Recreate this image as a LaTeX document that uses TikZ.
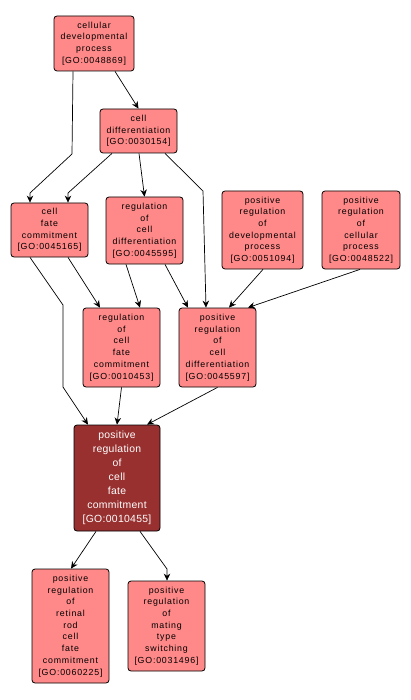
\documentclass[tikz,border=0pt]{standalone}
\usepackage{fontspec}
\setmainfont{Liberation Sans}
\newfontfamily\lightfont[LetterSpace=9]{Liberation Sans}
\newfontfamily\darkfont[LetterSpace=3]{Liberation Sans}
\usetikzlibrary{arrows.meta}
\definecolor{lightnode}{RGB}{255,136,136}
\definecolor{darknode}{RGB}{153,48,48}
\tikzset{
  gobox/.style={draw=black, line width=0.8pt, rounded corners=3pt, fill=lightnode,
    inner sep=0pt, align=center, font=\lightfont\fontsize{8.8}{11.7}\selectfont,
    execute at begin node={\rule{0pt}{11.4pt}}},
  godark/.style={gobox, fill=darknode, text=white, font=\darkfont\fontsize{10.4}{14}\selectfont,
    execute at begin node={\rule{0pt}{12.6pt}}},
  edge/.style={draw=black, line width=0.7pt, -{Stealth[length=7pt,width=6.5pt]}}
}
\begin{document}
\begin{tikzpicture}[x=1pt,y=-1pt]
\useasboundingbox (0,0) rectangle (410,700);
\node[gobox, minimum width=80pt, minimum height=55pt] (n1) at (94,43.5) {cellular\\developmental\\process\\{[GO:0048869]}};
\node[gobox, minimum width=77pt, minimum height=44pt] (n2) at (138.5,131) {cell\\differentiation\\{[GO:0030154]}};
\node[gobox, minimum width=77pt, minimum height=54pt] (n3) at (49.5,230) {cell\\fate\\commitment\\{[GO:0045165]}};
\node[gobox, minimum width=77pt, minimum height=67pt] (n4) at (144.5,230.5) {regulation\\of\\cell\\differentiation\\{[GO:0045595]}};
\node[gobox, minimum width=81pt, minimum height=78pt] (n5) at (262.5,230) {positive\\regulation\\of\\developmental\\process\\{[GO:0051094]}};
\node[gobox, minimum width=78pt, minimum height=78pt] (n6) at (361,230) {positive\\regulation\\of\\cellular\\process\\{[GO:0048522]}};
\node[gobox, minimum width=77pt, minimum height=79pt] (n7) at (121.5,347.5) {regulation\\of\\cell\\fate\\commitment\\{[GO:0010453]}};
\node[gobox, minimum width=77pt, minimum height=79pt] (n8) at (217.5,347.5) {positive\\regulation\\of\\cell\\differentiation\\{[GO:0045597]}};
\node[godark, minimum width=86pt, minimum height=106pt] (n9) at (117,478) {positive\\regulation\\of\\cell\\fate\\commitment\\{[GO:0010455]}};
\node[gobox, minimum width=77pt, minimum height=114pt] (n10) at (70.5,626) {positive\\regulation\\of\\retinal\\rod\\cell\\fate\\commitment\\{[GO:0060225]}};
\node[gobox, minimum width=77pt, minimum height=90pt] (n11) at (166.5,626) {positive\\regulation\\of\\mating\\type\\switching\\{[GO:0031496]}};

\coordinate (c1a) at (72,154);
\coordinate (c1b) at (30,193);
\coordinate (c3a) at (68,193);
\coordinate (c5a) at (203,191);
\coordinate (c6a) at (63,305);
\coordinate (c6b) at (63,387);
\coordinate (c15a) at (167,569);

\draw[edge] ([xshift=-21pt]n1.south) -- (c1a) -- (c1b) -- ([xshift=-19.5pt]n3.north);
\draw[edge] ([xshift=21pt]n1.south) -- (n2.north);
\draw[edge] ([xshift=-26.5pt]n2.south) -- (c3a) -- ([xshift=18.5pt]n3.north);
\draw[edge] ([xshift=0.5pt]n2.south) -- (n4.north);
\draw[edge] ([xshift=26.5pt]n2.south) -- (c5a) -- ([xshift=-11.5pt]n8.north);
\draw[edge] ([xshift=-19.5pt]n3.south) -- (c6a) -- (c6b) -- ([xshift=-29pt]n9.north);
\draw[edge] ([xshift=18.5pt]n3.south) -- ([xshift=-21.5pt]n7.north);
\draw[edge] ([xshift=-18.5pt]n4.south) -- ([xshift=18.5pt]n7.north);
\draw[edge] ([xshift=20.5pt]n4.south) -- ([xshift=-29.5pt]n8.north);
\draw[edge] ([xshift=0.5pt]n5.south) -- ([xshift=11.5pt]n8.north);
\draw[edge] ([xshift=-1pt]n6.south) -- ([xshift=30.5pt]n8.north);
\draw[edge] (n7.south) -- (n9.north);
\draw[edge] (n8.south) -- ([xshift=30pt]n9.north);
\draw[edge] ([xshift=-21pt]n9.south) -- ([xshift=0.5pt]n10.north);
\draw[edge] ([xshift=23pt]n9.south) -- (c15a) -- ([xshift=0.5pt]n11.north);
\end{tikzpicture}
\end{document}
